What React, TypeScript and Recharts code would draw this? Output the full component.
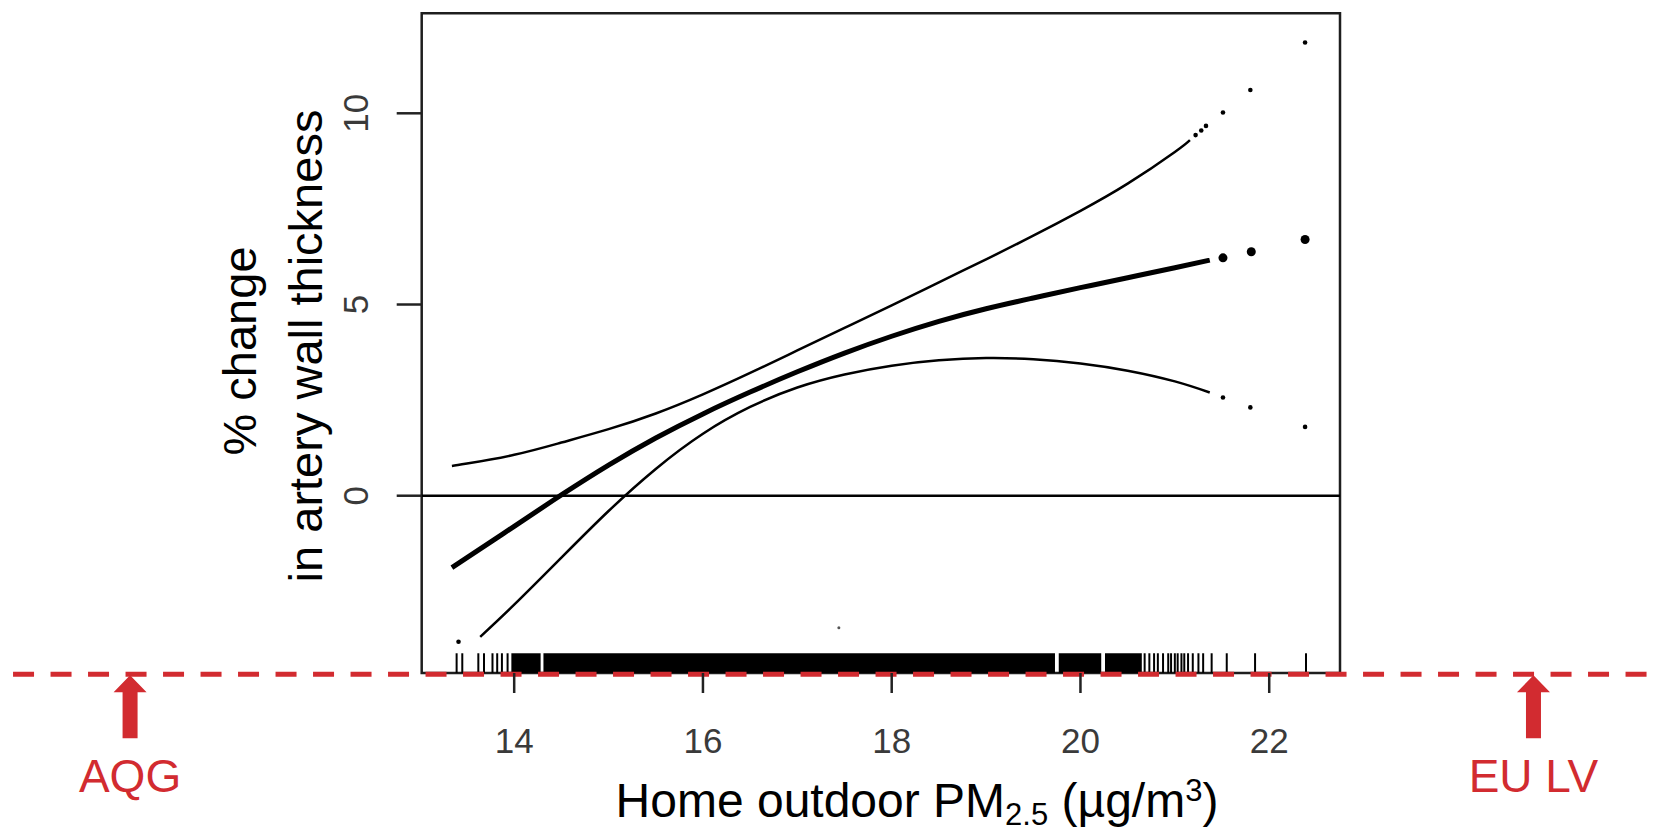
import React from 'react';
import {
  ComposedChart,
  Line,
  Scatter,
  XAxis,
  YAxis,
  ReferenceLine,
  ReferenceArea,
  ReferenceDot,
} from 'recharts';

const FONT = '"Liberation Sans", Arial, Helvetica, sans-serif';
const RED = '#D22B30';

// axes
const xTicks = [14, 16, 18, 20, 22];
const yTicks = [0, 5, 10];
const xDomain = [13.02, 22.75];
const yDomain = [-4.636, 12.615];

// fitted curve (continuous part) and its isolated end points
const fitCenter = [
  { x: 13.34, y: -1.88 },
  { x: 13.5, y: -1.62 },
  { x: 14.0, y: -0.8 },
  { x: 14.5, y: 0.02 },
  { x: 15.0, y: 0.8 },
  { x: 15.5, y: 1.51 },
  { x: 16.0, y: 2.14 },
  { x: 16.5, y: 2.71 },
  { x: 17.0, y: 3.24 },
  { x: 17.5, y: 3.73 },
  { x: 18.0, y: 4.17 },
  { x: 18.5, y: 4.56 },
  { x: 19.0, y: 4.89 },
  { x: 19.5, y: 5.17 },
  { x: 20.0, y: 5.44 },
  { x: 20.5, y: 5.7 },
  { x: 21.0, y: 5.96 },
  { x: 21.37, y: 6.16 },
];
const centerTail = [
  { x: 21.51, y: 6.22 },
  { x: 21.81, y: 6.38 },
  { x: 22.38, y: 6.7 },
];

// upper confidence band
const upperCI = [
  { x: 13.34, y: 0.78 },
  { x: 13.5, y: 0.84 },
  { x: 14.0, y: 1.07 },
  { x: 14.5, y: 1.39 },
  { x: 15.0, y: 1.74 },
  { x: 15.5, y: 2.15 },
  { x: 16.0, y: 2.65 },
  { x: 16.5, y: 3.21 },
  { x: 17.0, y: 3.8 },
  { x: 17.5, y: 4.39 },
  { x: 18.0, y: 4.98 },
  { x: 18.5, y: 5.58 },
  { x: 19.0, y: 6.18 },
  { x: 19.5, y: 6.8 },
  { x: 20.0, y: 7.45 },
  { x: 20.5, y: 8.16 },
  { x: 21.0, y: 8.99 },
  { x: 21.16, y: 9.3 },
];
const upperTail = [
  { x: 21.22, y: 9.43 },
  { x: 21.28, y: 9.55 },
  { x: 21.33, y: 9.67 },
  { x: 21.51, y: 10.02 },
  { x: 21.8, y: 10.61 },
  { x: 22.38, y: 11.85 },
];

// lower confidence band
const lowerCI = [
  { x: 13.64, y: -3.69 },
  { x: 14.0, y: -2.85 },
  { x: 14.5, y: -1.62 },
  { x: 15.0, y: -0.4 },
  { x: 15.5, y: 0.7 },
  { x: 16.0, y: 1.62 },
  { x: 16.5, y: 2.32 },
  { x: 17.0, y: 2.83 },
  { x: 17.5, y: 3.17 },
  { x: 18.0, y: 3.4 },
  { x: 18.5, y: 3.54 },
  { x: 19.0, y: 3.6 },
  { x: 19.5, y: 3.57 },
  { x: 20.0, y: 3.46 },
  { x: 20.5, y: 3.27 },
  { x: 21.0, y: 2.99 },
  { x: 21.37, y: 2.7 },
];
const lowerTail = [
  { x: 13.41, y: -3.82 },
  { x: 21.51, y: 2.57 },
  { x: 21.8, y: 2.31 },
  { x: 22.38, y: 1.8 },
];

const strayPoints = [{ x: 17.44, y: -3.45 }];

// rug of exposure values
const rugRange = [-4.636, -4.12];
const rugSingles = [
  13.39, 13.45, 13.62, 13.68, 13.77, 13.82, 13.87, 13.93,
  20.68, 20.73, 20.78, 20.82, 20.875, 20.93, 20.96, 21.0, 21.03, 21.07,
  21.1, 21.14, 21.19, 21.25, 21.3, 21.39, 21.55, 21.85, 22.39,
];
const rugBlocks = [
  [13.97, 14.28],
  [14.31, 19.73],
  [19.77, 20.22],
  [20.26, 20.65],
];

// limit value annotations
const thresholdY = -4.67;
const thresholdSpan = [8.69, 26.09];
const thresholds = [
  { x: 9.93, label: 'AQG' },
  { x: 24.8, label: 'EU LV' },
];

const YTick = (props: any) => {
  const { x, y, payload } = props;
  return (
    <text
      x={0}
      y={0}
      transform={`translate(${x},${y}) rotate(-90)`}
      textAnchor="middle"
      fill="#3a3a3a"
      fontSize={35}
      fontFamily={FONT}
    >
      {payload.value}
    </text>
  );
};

const YLabel = () => (
  <g fontFamily={FONT} fontSize={47} fill="#000">
    <text transform="translate(256,351) rotate(-90)" textAnchor="middle">
      % change
    </text>
    <text transform="translate(322,346) rotate(-90)" textAnchor="middle">
      in artery wall thickness
    </text>
  </g>
);

const XLabel = () => (
  <text x={917} y={817} textAnchor="middle" fontSize={48} fontFamily={FONT} fill="#000">
    {'Home outdoor PM'}
    <tspan fontSize={31} dy={8}>
      2.5
    </tspan>
    <tspan dy={-8}>{' (µg/m'}</tspan>
    <tspan fontSize={31} dy={-16}>
      3
    </tspan>
    <tspan dy={16}>)</tspan>
  </text>
);

const makeArrow = (label: string) => (props: any) => {
  const { cx, cy } = props;
  const pts = [
    [cx, cy + 1],
    [cx + 16.5, cy + 18],
    [cx + 7.5, cy + 18],
    [cx + 7.5, cy + 64],
    [cx - 7.5, cy + 64],
    [cx - 7.5, cy + 18],
    [cx - 16.5, cy + 18],
  ]
    .map((p) => p.join(','))
    .join(' ');
  return (
    <g>
      <polygon points={pts} fill={RED} />
      <text x={cx} y={cy + 118} textAnchor="middle" fill={RED} fontSize={46} fontFamily={FONT}>
        {label}
      </text>
    </g>
  );
};

const dotShape = (r: number, fill = '#000') => (p: any) =>
  <circle cx={p.cx} cy={p.cy} r={r} fill={fill} />;

export default function App() {
  return (
    <div style={{ position: 'absolute', left: 0, top: 0, background: '#fff' }}>
      <ComposedChart
        width={1656}
        height={831}
        margin={{ top: 13.3, right: 316, bottom: 98, left: 361.7 }}
      >
        <XAxis
          type="number"
          dataKey="x"
          domain={xDomain}
          ticks={xTicks}
          allowDataOverflow
          height={60}
          tickSize={20}
          tickMargin={35}
          axisLine={false}
          tickLine={{ stroke: '#222', strokeWidth: 2.5 }}
          tick={{ fill: '#3a3a3a', fontSize: 35, fontFamily: FONT }}
          label={<XLabel />}
        />
        <YAxis
          type="number"
          dataKey="y"
          domain={yDomain}
          ticks={yTicks}
          allowDataOverflow
          width={60}
          tickSize={25}
          tickMargin={29}
          axisLine={false}
          tickLine={{ stroke: '#222', strokeWidth: 2.5 }}
          tick={<YTick />}
          label={<YLabel />}
        />

        <ReferenceArea
          x1={xDomain[0]}
          x2={xDomain[1]}
          y1={yDomain[0]}
          y2={yDomain[1]}
          fill="none"
          fillOpacity={0}
          stroke="#1e1e1e"
          strokeWidth={2.5}
          ifOverflow="visible"
        />

        {rugBlocks.map(([a, b], i) => (
          <ReferenceArea
            key={`rb${i}`}
            x1={a}
            x2={b}
            y1={rugRange[0]}
            y2={rugRange[1]}
            fill="#000"
            fillOpacity={1}
            stroke="none"
            ifOverflow="visible"
          />
        ))}
        {rugSingles.map((v, i) => (
          <ReferenceLine
            key={`rs${i}`}
            segment={[
              { x: v, y: rugRange[0] },
              { x: v, y: rugRange[1] },
            ]}
            stroke="#000"
            strokeWidth={2}
            ifOverflow="visible"
          />
        ))}

        <ReferenceLine y={0} stroke="#000" strokeWidth={2.5} />

        <Line
          data={upperCI}
          dataKey="y"
          type="natural"
          stroke="#000"
          strokeWidth={2.5}
          dot={false}
          activeDot={false}
          isAnimationActive={false}
        />
        <Line
          data={lowerCI}
          dataKey="y"
          type="natural"
          stroke="#000"
          strokeWidth={2.5}
          dot={false}
          activeDot={false}
          isAnimationActive={false}
        />
        <Line
          data={fitCenter}
          dataKey="y"
          type="natural"
          stroke="#000"
          strokeWidth={5}
          dot={false}
          activeDot={false}
          isAnimationActive={false}
        />
        <Scatter data={centerTail} dataKey="y" shape={dotShape(4.5)} isAnimationActive={false} />
        <Scatter data={upperTail} dataKey="y" shape={dotShape(2.3)} isAnimationActive={false} />
        <Scatter data={lowerTail} dataKey="y" shape={dotShape(2.3)} isAnimationActive={false} />
        <Scatter data={strayPoints} dataKey="y" shape={dotShape(1.5, '#555')} isAnimationActive={false} />

        <ReferenceLine
          segment={[
            { x: thresholdSpan[0], y: thresholdY },
            { x: thresholdSpan[1], y: thresholdY },
          ]}
          stroke={RED}
          strokeWidth={5}
          strokeDasharray="21 16.5"
          ifOverflow="visible"
        />
        {thresholds.map((t) => (
          <ReferenceDot
            key={t.label}
            x={t.x}
            y={thresholdY}
            r={0}
            ifOverflow="visible"
            shape={makeArrow(t.label)}
          />
        ))}
      </ComposedChart>
    </div>
  );
}
